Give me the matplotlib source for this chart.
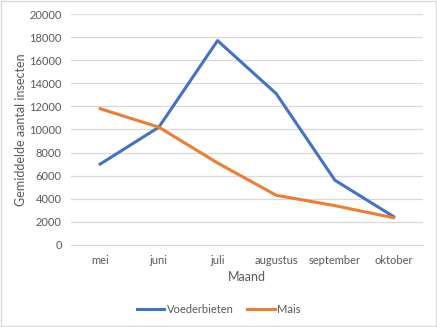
import matplotlib
matplotlib.use("Agg")
import matplotlib.pyplot as plt
from matplotlib.patches import Rectangle

maanden = ["mei", "juni", "juli", "augustus", "september", "oktober"]
voederbieten = [7000, 10200, 17700, 13100, 5600, 2450]
mais = [11800, 10200, 7100, 4300, 3400, 2350]

grijs = "#595959"
plt.rcParams['font.family'] = ['Lato', 'DejaVu Sans']

fig = plt.figure(figsize=(4.37, 3.27), dpi=100)
ax = fig.add_axes([0.162, 0.251, 0.806, 0.706])

x = range(len(maanden))
ax.plot(x, voederbieten, color="#4472C4", lw=2.2, label="Voederbieten", solid_joinstyle="round")
ax.plot(x, mais, color="#ED7D31", lw=2.2, label="Mais", solid_joinstyle="round")

ax.set_xlim(-0.5, len(maanden) - 0.5)
ax.set_ylim(0, 20000)
ax.set_yticks(range(0, 20001, 2000))
ax.set_xticks(list(x))
ax.set_xticklabels(maanden)
ax.grid(axis="y", color="#d9d9d9", lw=0.9)
ax.set_axisbelow(True)
for s in ["top", "right", "left"]:
    ax.spines[s].set_visible(False)
ax.spines["bottom"].set_color("#d9d9d9")
ax.tick_params(length=0, labelsize=8, colors=grijs, pad=7)
ax.tick_params(axis="y", pad=6.5)

ax.set_xlabel("Maand", fontsize=9, color=grijs, labelpad=4)
ax.set_ylabel("Gemiddelde aantal insecten", fontsize=9, color=grijs, labelpad=1.5)

leg = fig.legend(loc="center", bbox_to_anchor=(0.5, 0.055), ncol=2, frameon=False,
                 fontsize=8, handlelength=2.5, handletextpad=0.2, columnspacing=1.2)
for t in leg.get_texts():
    t.set_color(grijs)

fig.patches.append(Rectangle((0.003, 0.004), 0.994, 0.992, transform=fig.transFigure,
                             fill=False, edgecolor="#d9d9d9", lw=1))

fig.savefig("out.png", dpi=100)
